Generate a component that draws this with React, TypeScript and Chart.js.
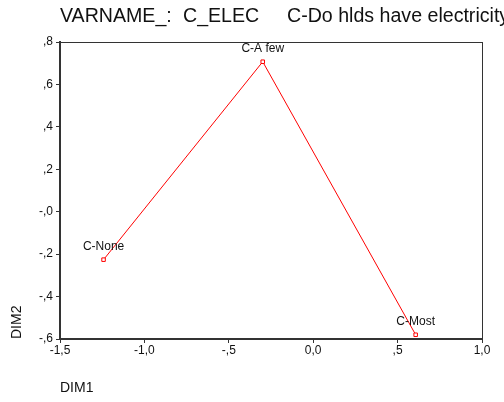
import React, { useEffect, useRef } from "react";
import { Chart, registerables } from "chart.js";

Chart.register(...registerables);

const categories = ["C-None", "C-A few", "C-Most"];
const dim1 = [-1.242, -0.299, 0.607];
const dim2 = [-0.226, 0.707, -0.58];
const xTickLabels: Record<string, string> = {
  "-1.5": "-1,5",
  "-1": "-1,0",
  "-0.5": "-,5",
  "0": "0,0",
  "0.5": ",5",
  "1": "1,0",
};
const yTickLabels: Record<string, string> = {
  "0.8": ",8",
  "0.6": ",6",
  "0.4": ",4",
  "0.2": ",2",
  "0": "-,0",
  "-0.2": "-,2",
  "-0.4": "-,4",
  "-0.6": "-,6",
};
const titleParts = ["VARNAME_:", "C_ELEC", "C-Do hlds have electricity"];
const xTitle = "DIM1";
const yTitle = "DIM2";

const FONT = "Liberation Sans, Arial, sans-serif";

const decorPlugin = {
  id: "decor",
  afterDraw(chart: any) {
    const ctx = chart.ctx;
    const a = chart.chartArea;
    ctx.save();
    // frame
    ctx.strokeStyle = "#333";
    ctx.lineWidth = 1;
    ctx.strokeRect(a.left + 0.5, a.top + 0.5, a.right - a.left, a.bottom - a.top);
    // title
    ctx.fillStyle = "#111";
    ctx.font = `19.6px ${FONT}`;
    ctx.textAlign = "left";
    ctx.textBaseline = "middle";
    const xs = [60, 183, 287];
    titleParts.forEach((t, i) => ctx.fillText(t, xs[i], 17));
    // axis titles
    ctx.font = `14px ${FONT}`;
    ctx.fillText(xTitle, 60, 388);
    ctx.save();
    ctx.translate(17, 339);
    ctx.rotate(-Math.PI / 2);
    ctx.textAlign = "left";
    ctx.fillText(yTitle, 0, 0);
    ctx.restore();
    // point labels
    const meta = chart.getDatasetMeta(0);
    ctx.font = `12px ${FONT}`;
    ctx.textAlign = "center";
    ctx.textBaseline = "middle";
    ctx.fillStyle = "#111";
    meta.data.forEach((el: any, i: number) => {
      ctx.fillText(categories[i], el.x, el.y - 13);
    });
    ctx.restore();
  },
};

export default function App() {
  const ref = useRef<HTMLCanvasElement>(null);
  useEffect(() => {
    document.body.style.margin = "0";
    const chart = new Chart(ref.current!, {
      type: "scatter",
      data: {
        datasets: [
          {
            data: dim1.map((x, i) => ({ x, y: dim2[i] })),
            showLine: true,
            borderColor: "#ff0000",
            borderWidth: 1,
            pointStyle: "rect",
            pointRadius: 2.5,
            pointBorderColor: "#ff0000",
            pointBackgroundColor: "#ffffff",
            pointBorderWidth: 1,
          },
        ],
      },
      options: {
        animation: false,
        responsive: false,
        maintainAspectRatio: false,
        layout: { padding: { left: 0, right: 22, top: 42, bottom: 0 } },
        plugins: { legend: { display: false }, tooltip: { enabled: false } },
        scales: {
          x: {
            type: "linear",
            min: -1.5,
            max: 1.0,
            afterFit: (s: any) => {
              s.height = 63;
            },
            afterBuildTicks: (s: any) => {
              s.ticks = [-1.5, -1, -0.5, 0, 0.5, 1].map((v) => ({ value: v }));
            },
            ticks: {
              color: "#111",
              font: { family: FONT, size: 12 },
              padding: 0,
              maxRotation: 0,
              callback: (v: any) => xTickLabels[String(Math.round(Number(v) * 10) / 10)] ?? "",
            },
            grid: { drawOnChartArea: false, drawTicks: true, tickLength: 4, color: "#333" },
            border: { display: true, color: "#333", width: 2 },
          },
          y: {
            type: "linear",
            min: -0.6,
            max: 0.8,
            afterFit: (s: any) => {
              s.width = 60;
            },
            afterBuildTicks: (s: any) => {
              s.ticks = [-0.6, -0.4, -0.2, 0, 0.2, 0.4, 0.6, 0.8].map((v) => ({ value: v }));
            },
            ticks: {
              color: "#111",
              font: { family: FONT, size: 12 },
              padding: 3,
              callback: (v: any) => yTickLabels[String(Math.round(Number(v) * 10) / 10)] ?? "",
            },
            grid: { drawOnChartArea: false, drawTicks: true, tickLength: 4, color: "#333" },
            border: { display: true, color: "#333", width: 2 },
          },
        },
      },
      plugins: [decorPlugin],
    } as any);
    return () => chart.destroy();
  }, []);
  return (
    <div style={{ position: "relative", width: 504, height: 402 }}>
      <canvas ref={ref} width={504} height={402} style={{ width: 504, height: 402 }} />
    </div>
  );
}
